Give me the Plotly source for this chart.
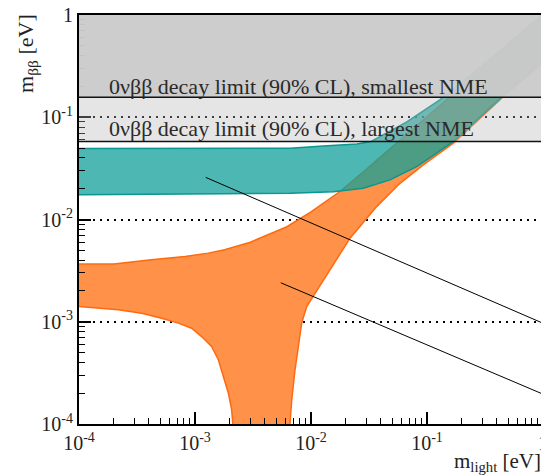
import numpy as np
import plotly.graph_objects as go

# ---------------- data ----------------
# Normal ordering band (orange): upper edge
no_upper_m = [1e-4, 2e-4, 4.2e-4, 8.2e-4, 1.3e-3, 1.8e-3, 3e-3, 6.2e-3, 1e-2, 1.8e-2, 3e-2, 5.5e-2, 0.1, 0.2, 0.5, 1.0]
no_upper_mbb = [3.68e-3, 3.68e-3, 4.03e-3, 4.34e-3, 4.69e-3, 5.05e-3, 6.0e-3, 8.5e-3, 1.19e-2, 1.9e-2, 3.1e-2, 5.6e-2, 0.1, 0.2, 0.5, 1.0]
# Normal ordering band: lower edge (left branch, funnel, right branch)
no_lower_m = [1e-4, 2.18e-4, 3.47e-4, 5.16e-4, 7.18e-4, 9.36e-4, 1.14e-3, 1.39e-3, 1.59e-3, 1.75e-3, 1.94e-3, 2.07e-3,
              2.12e-3, 2.16e-3, 6.55e-3, 6.59e-3, 6.82e-3, 7.28e-3, 7.77e-3, 8.31e-3, 9.18e-3, 1.05e-2, 1.28e-2,
              2.17e-2, 3.68e-2, 5.85e-2, 9.29e-2, 0.1686, 0.452, 1.0]
no_lower_mbb = [1.41e-3, 1.31e-3, 1.21e-3, 1.08e-3, 9.7e-4, 8.65e-4, 7.16e-4, 5.73e-4, 4.25e-4, 2.91e-4, 2.0e-4, 1.38e-4,
                1.0e-4, 1e-6, 1e-6, 1.0e-4, 1.72e-4, 3.39e-4, 5.73e-4, 9.7e-4, 1.41e-3, 1.76e-3, 2.57e-3,
                6.56e-3, 1.337e-2, 2.26e-2, 3.42e-2, 5.57e-2, 0.158, 0.34]

# Inverted ordering band (teal)
io_upper_m = [1e-4, 3e-3, 6.6e-3, 1.28e-2, 2.48e-2, 3.3e-2, 6.7e-2, 0.129, 0.3, 1.0]
io_upper_mbb = [0.0495, 0.0495, 0.0498, 0.0524, 0.0548, 0.058, 0.09, 0.148, 0.32, 1.02]
io_lower_m = [1e-4, 6.6e-3, 1.56e-2, 2.82e-2, 4.8e-2, 8.15e-2, 0.121, 0.169, 0.452, 1.0]
io_lower_mbb = [0.0175, 0.0181, 0.0187, 0.0202, 0.0244, 0.0329, 0.0445, 0.058, 0.162, 0.35]

# 0vbb limits (90% CL)
limit_smallest_nme = 0.157
limit_largest_nme = 0.058
axis_top = 1.0
label_smallest = "0νββ decay limit (90% CL), smallest NME"
label_largest = "0νββ decay limit (90% CL), largest NME"

# pointer lines (start / end in data coordinates)
pointer_start_m = [1.2e-3, 5.33e-3]
pointer_start_mbb = [0.0262, 2.44e-3]
pointer_end_m = [1.126, 1.126]
pointer_end_mbb = [9.12e-4, 1.85e-4]

# axis ticks
x_tickvals = [1e-4, 1e-3, 1e-2, 1e-1, 1]
x_ticktext = ["10<sup>-4</sup>", "10<sup>-3</sup>", "10<sup>-2</sup>", "10<sup>-1</sup>", "1"]
y_tickvals = [1e-4, 1e-3, 1e-2, 1e-1, 1]
y_ticktext = ["10<sup>-4</sup>", "10<sup>-3</sup>", "10<sup>-2</sup>", "10<sup>-1</sup>", "1"]
minor_vals = [k * 10.0 ** e for e in range(-4, 0) for k in range(2, 10)]

FONT = "Liberation Serif, Times New Roman, serif"

fig = go.Figure()

# orange (normal ordering) band
fig.add_trace(go.Scatter(
    x=no_upper_m + no_lower_m[::-1],
    y=no_upper_mbb + no_lower_mbb[::-1],
    fill="toself", mode="lines",
    fillcolor="rgb(255,146,72)",
    line=dict(color="rgb(255,105,15)", width=1.5),
    hoverinfo="skip", showlegend=False,
))
# teal (inverted ordering) band
fig.add_trace(go.Scatter(
    x=io_upper_m + io_lower_m[::-1],
    y=io_upper_mbb + io_lower_mbb[::-1],
    fill="toself", mode="lines",
    fillcolor="rgba(18,160,154,0.75)",
    line=dict(color="rgba(10,150,145,1)", width=1.5),
    hoverinfo="skip", showlegend=False,
))

shapes = [
    dict(type="rect", xref="paper", yref="y", x0=0, x1=1, y0=limit_smallest_nme, y1=axis_top,
         fillcolor="rgba(203,203,203,0.96)", line=dict(width=0), layer="above"),
    dict(type="rect", xref="paper", yref="y", x0=0, x1=1, y0=limit_largest_nme, y1=limit_smallest_nme,
         fillcolor="rgba(180,180,180,0.35)", line=dict(width=0), layer="above"),
    dict(type="line", xref="paper", yref="y", x0=0, x1=1, y0=limit_smallest_nme, y1=limit_smallest_nme,
         line=dict(color="#111", width=1.5), layer="above"),
    dict(type="line", xref="paper", yref="y", x0=0, x1=1, y0=limit_largest_nme, y1=limit_largest_nme,
         line=dict(color="#111", width=1.5), layer="above"),
]

annotations = [
    dict(text=label_smallest, xref="paper", yref="y", x=0.472,
         y=np.log10(limit_smallest_nme) + 0.10, showarrow=False,
         font=dict(family=FONT, size=22, color="#2a2a2a"), xanchor="center", yanchor="middle"),
    dict(text=label_largest, xref="paper", yref="y", x=0.459,
         y=np.log10(limit_largest_nme) + 0.13, showarrow=False,
         font=dict(family=FONT, size=22, color="#2a2a2a"), xanchor="center", yanchor="middle"),
    dict(text="m<sub>ββ</sub> [eV]", xref="paper", yref="paper", x=-0.112, y=0.905,
         textangle=-90, showarrow=False, font=dict(family=FONT, size=22, color="#222"),
         xanchor="center", yanchor="middle"),
    dict(text="m<sub>light</sub> [eV]", xref="paper", yref="paper", x=1.0, y=-0.094,
         showarrow=False, font=dict(family=FONT, size=21, color="#222"),
         xanchor="right", yanchor="middle"),
]
for sm, sb, em, eb in zip(pointer_start_m, pointer_start_mbb, pointer_end_m, pointer_end_mbb):
    annotations.append(dict(
        text="", x=np.log10(em), y=np.log10(eb), xref="x", yref="y",
        ax=np.log10(sm), ay=np.log10(sb), axref="x", ayref="y",
        showarrow=True, arrowhead=0, arrowwidth=1, arrowcolor="black",
        standoff=0, startstandoff=0,
    ))

axis_common = dict(
    type="log", range=[-4, 0], showline=True, linecolor="black", linewidth=2, mirror=True,
    ticks="inside", ticklen=12, tickwidth=1.5, tickcolor="black",
    tickfont=dict(family=FONT, size=20, color="#222"),
    ticklabeloverflow="allow", automargin=False,
    minor=dict(tickvals=minor_vals, ticks="inside", ticklen=6, tickwidth=1.3, tickcolor="black", showgrid=False),
    zeroline=False,
)

# the page body adds an 8px margin, so the figure is 8px smaller and its margins shifted
fig.update_layout(
    width=541, height=468,
    margin=dict(l=71, r=6, t=7, b=52, autoexpand=False),
    paper_bgcolor="white", plot_bgcolor="white",
    shapes=shapes, annotations=annotations,
    xaxis=dict(axis_common, tickmode="array", tickvals=x_tickvals, ticktext=x_ticktext, showgrid=False),
    yaxis=dict(axis_common, tickmode="array", tickvals=y_tickvals, ticktext=y_ticktext,
               showgrid=True, gridcolor="black", gridwidth=1.5, griddash="2px,5px"),
)

fig.write_html("out.html")
